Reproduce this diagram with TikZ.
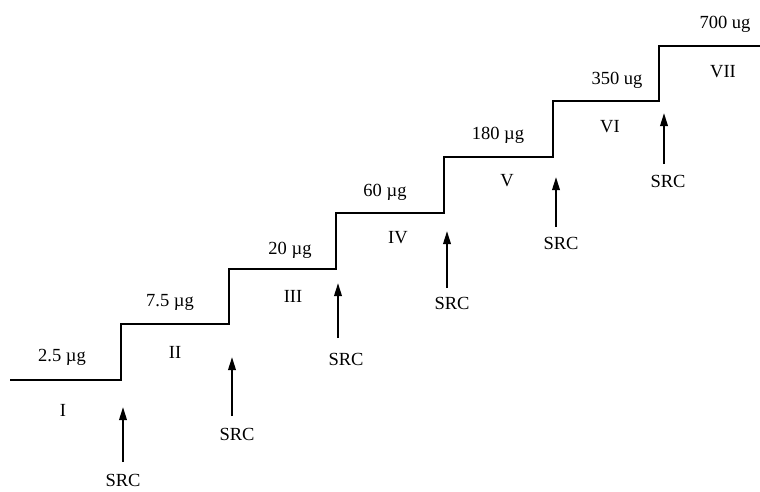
\documentclass[tikz,border=0pt]{standalone}
\usepackage{fontspec}
\setmainfont{Liberation Serif}
\usetikzlibrary{arrows.meta}
\begin{document}
\begin{tikzpicture}[x=1pt,y=-1pt,
  stair/.style={line width=2.6pt,line join=miter},
  lbl/.style={inner sep=0pt,font=\fontsize{18.5}{20}\selectfont},
  srcarrow/.style={line width=2pt,-{Triangle[length=13pt,width=7.5pt]}}]
\useasboundingbox (0,0) rectangle (760,491);
% staircase
\coordinate (p0) at (10,380);
\coordinate (p1) at (121,380);
\coordinate (p2) at (121,324);
\coordinate (p3) at (229,324);
\coordinate (p4) at (229,269);
\coordinate (p5) at (336,269);
\coordinate (p6) at (336,213);
\coordinate (p7) at (444,213);
\coordinate (p8) at (444,157);
\coordinate (p9) at (553,157);
\coordinate (p10) at (553,101);
\coordinate (p11) at (659,101);
\coordinate (p12) at (659,46);
\coordinate (p13) at (760,46);
\draw[stair] (p0)--(p1)--(p2)--(p3)--(p4)--(p5)--(p6)--(p7)--(p8)--(p9)--(p10)--(p11)--(p12)--(p13);
% dose labels
\node[lbl] (d1) at (62,357) {2.5 µg};
\node[lbl] (d2) at (170,302) {7.5 µg};
\node[lbl] (d3) at (290,250) {20 µg};
\node[lbl] (d4) at (385,192) {60 µg};
\node[lbl] (d5) at (498,135) {180 µg};
\node[lbl] (d6) at (617,80) {350 ug};
\node[lbl] (d7) at (725,24) {700 ug};
% stage labels
\node[lbl] (r1) at (63,410) {I};
\node[lbl] (r2) at (175,352) {II};
\node[lbl] (r3) at (293,296) {III};
\node[lbl] (r4) at (398,238) {IV};
\node[lbl] (r5) at (507,181) {V};
\node[lbl] (r6) at (610,127) {VI};
\node[lbl] (r7) at (723,72) {VII};
% SRC labels and arrows
\node[lbl] (s1) at (123,480) {SRC};
\node[lbl] (s2) at (237,434) {SRC};
\node[lbl] (s3) at (346,359) {SRC};
\node[lbl] (s4) at (452,303) {SRC};
\node[lbl] (s5) at (561,243) {SRC};
\node[lbl] (s6) at (668,181) {SRC};
\coordinate (t1) at (123,462); \coordinate (h1) at (123,407);
\coordinate (t2) at (232,416); \coordinate (h2) at (232,357);
\coordinate (t3) at (338,338); \coordinate (h3) at (338,283);
\coordinate (t4) at (447,288); \coordinate (h4) at (447,231);
\coordinate (t5) at (556,227); \coordinate (h5) at (556,177);
\coordinate (t6) at (664,164); \coordinate (h6) at (664,113);
\foreach \i in {1,...,6} {\draw[srcarrow] (t\i) -- (h\i);}
\end{tikzpicture}
\end{document}
